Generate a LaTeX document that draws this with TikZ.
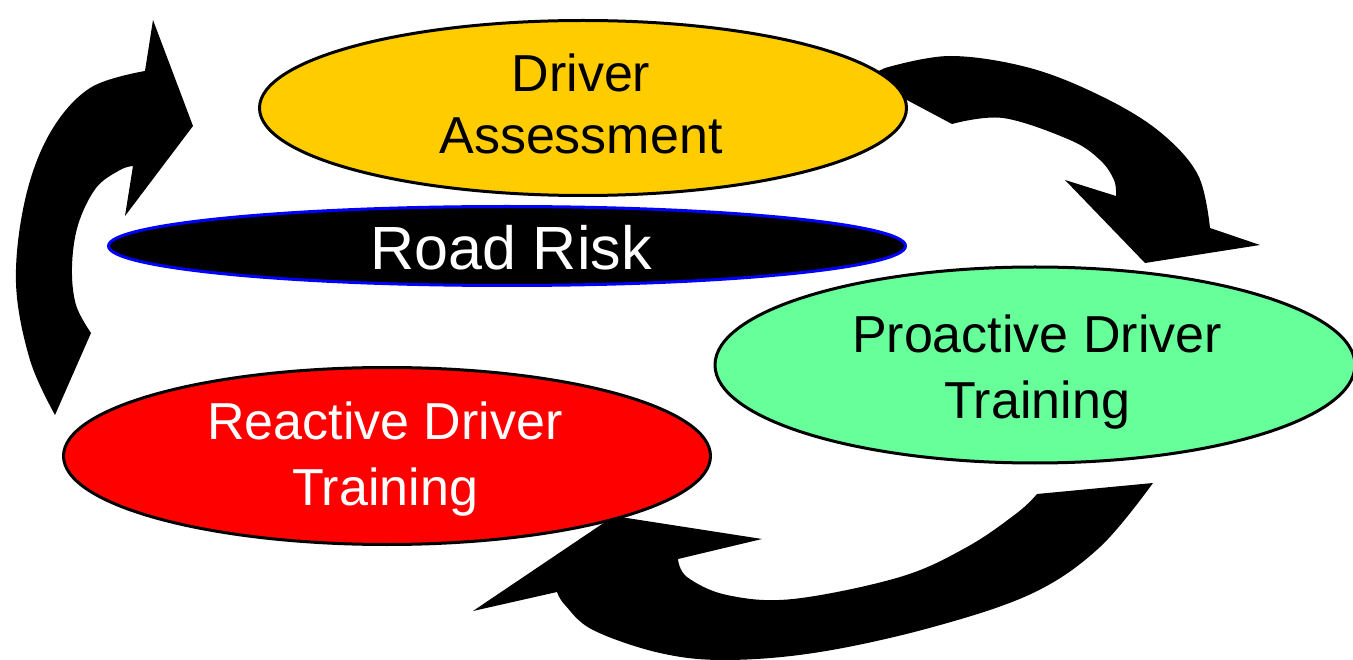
\documentclass[tikz,border=0pt]{standalone}
\usepackage{fontspec}
\setmainfont{Liberation Sans}
\usetikzlibrary{shapes.geometric}
\definecolor{ygold}{RGB}{255,204,0}
\definecolor{mint}{RGB}{102,255,153}
\definecolor{rred}{RGB}{255,0,0}
\tikzset{
  oval/.style={ellipse, draw=black, line width=3pt, inner sep=0pt},
  lbl/.style={anchor=base, inner sep=0pt, font=\fontsize{52}{63}\selectfont},
  bigarrow/.style={fill=black, draw=none}
}
\begin{document}
\begin{tikzpicture}[x=1pt,y=-1pt]
\useasboundingbox (0,0) rectangle (1353,660);
% arrows (behind ellipses)
\fill[bigarrow] (133,166) -- (125,216) -- (193,126) -- (153,20) -- (145,71)
  -- plot[smooth, tension=0.6] coordinates {(145,71) (90,88) (50,133) (25,200) (16,283) (30,360) (55,415)}
  -- (91,333)
  -- plot[smooth, tension=0.6] coordinates {(91,333) (76,305) (72,267) (78,225) (96,188) (120,170) (133,166)}
  -- cycle;
\fill[bigarrow] (880,100) -- (870,75) -- (885,68)
  -- plot[smooth, tension=0.6] coordinates {(885,68) (950,56) (1030,68) (1103,97) (1160,132) (1198,175) (1210,228)}
  -- (1260,245) -- (1145,263) -- (1065,180) -- (1116,196)
  -- plot[smooth, tension=0.6] coordinates {(1116,196) (1114,180) (1100,160) (1070,140) (1003,118) (952,124)}
  -- (905,99) -- cycle;
\fill[bigarrow] (1153,483)
  -- plot[smooth, tension=0.6] coordinates {(1153,483) (1100,547) (1033,593) (933,627) (820,652) (727,660) (660,653) (593,630) (565,605) (557,592)}
  -- (473,611) -- (614,516) -- (762,539) -- (678,559)
  -- plot[smooth, tension=0.6] coordinates {(678,559) (687,577) (727,595) (793,599) (900,577) (967,547) (1017,513) (1037,494)}
  -- cycle;
% ellipses
\node[oval, fill=ygold, minimum width=647pt, minimum height=175pt] (assess) at (583,108) {};
\node[ellipse, draw=blue, line width=3pt, fill=black, inner sep=0pt, minimum width=797pt, minimum height=79pt] (risk) at (507,246) {};
\node[oval, fill=mint, minimum width=640pt, minimum height=196pt] (proactive) at (1035,365) {};
\node[oval, fill=rred, minimum width=647pt, minimum height=177pt] (reactive) at (387,456) {};
% texts
\node[lbl] (assess1) at (581,92) {Driver};
\node[lbl] (assess2) at (581,154) {Assessment};
\node[lbl, text=white, font=\fontsize{61}{70}\selectfont] (risk1) at (511,270) {Road Risk};
\node[lbl] (pro1) at (1037,353) {Proactive Driver};
\node[lbl] (pro2) at (1037,418) {Training};
\node[lbl, text=white] (rea1) at (385,439) {Reactive Driver};
\node[lbl, text=white] (rea2) at (385,505) {Training};
\end{tikzpicture}
\end{document}
